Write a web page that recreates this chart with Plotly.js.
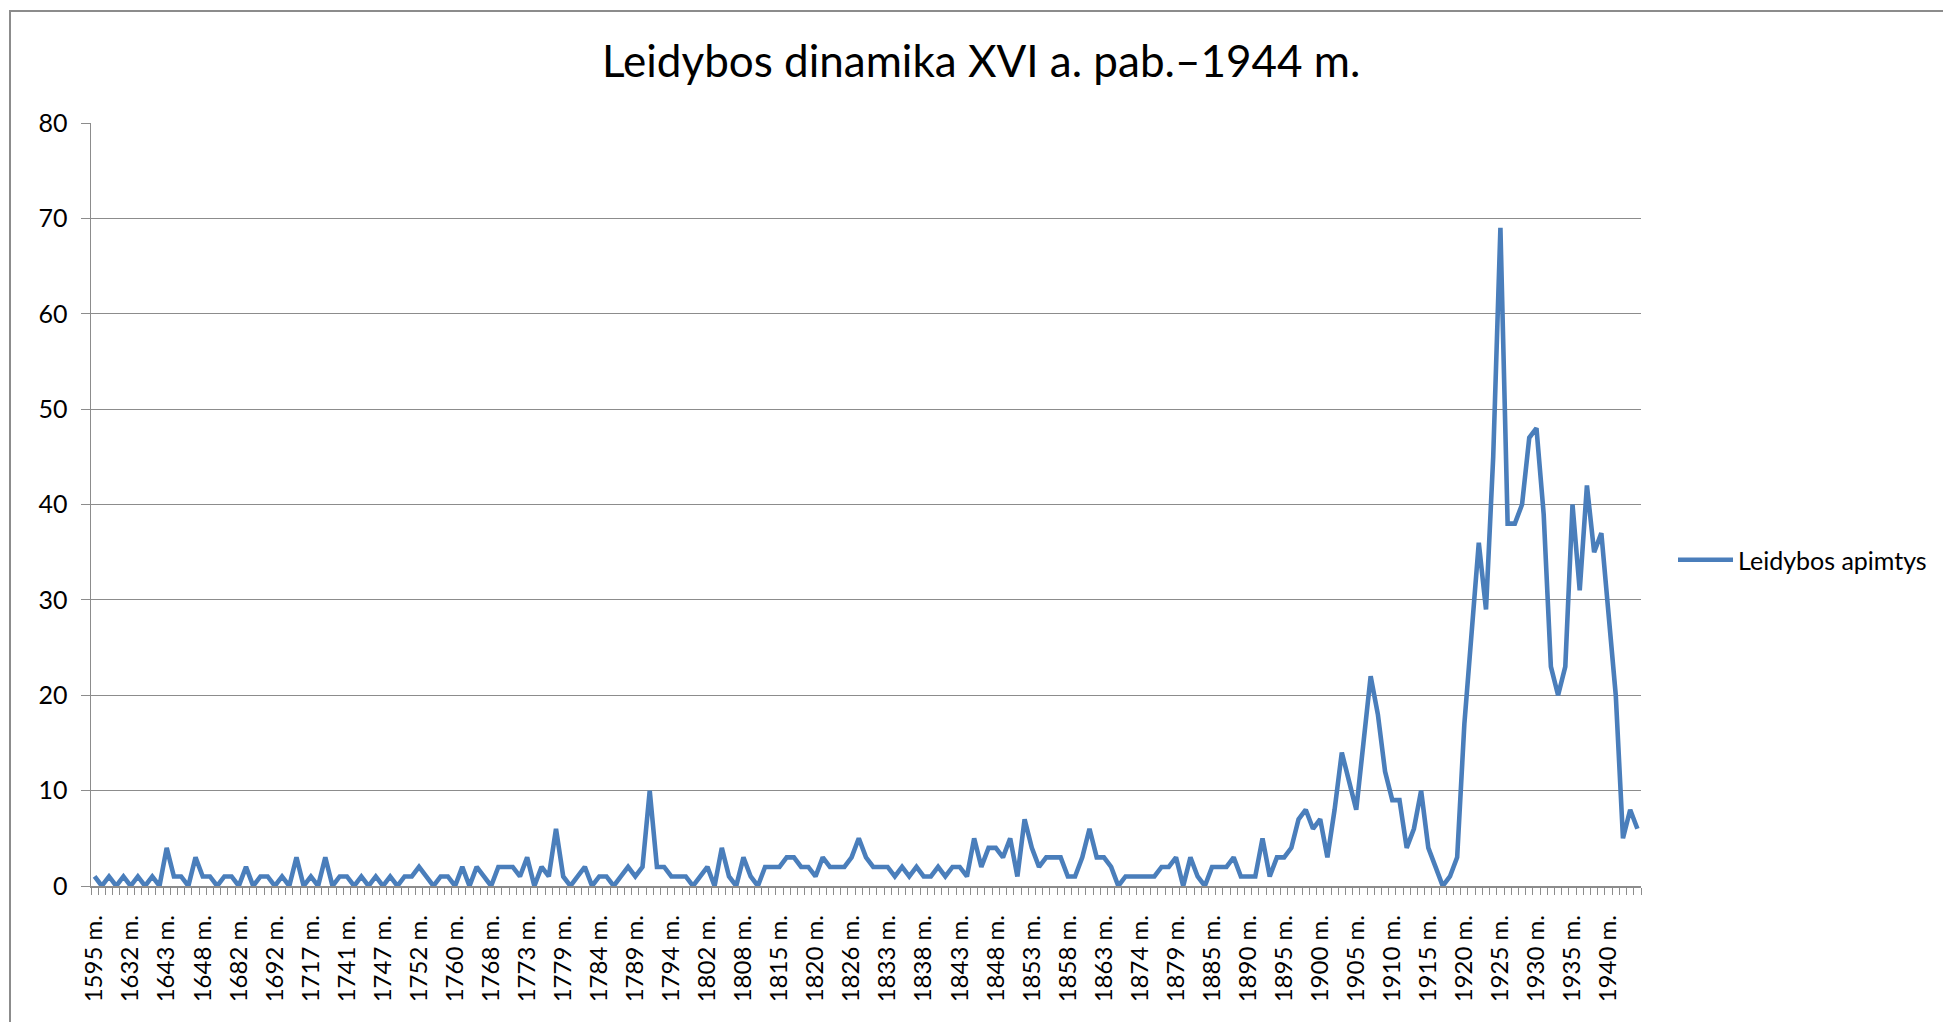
<!DOCTYPE html>
<html>
<head>
<meta charset="utf-8">
<script src="https://cdn.plot.ly/plotly-3.0.1.min.js"></script>
<style>html,body{margin:0;padding:0;background:#fff;}#chart{width:1943px;height:1022px;}</style>
</head>
<body>
<div id="chart"></div>
<script>
// Category tick labels (every 5th category is labelled)
const tickLabels = ["1595 m.","1632 m.","1643 m.","1648 m.","1682 m.","1692 m.","1717 m.","1741 m.","1747 m.","1752 m.","1760 m.","1768 m.","1773 m.","1779 m.","1784 m.","1789 m.","1794 m.","1802 m.","1808 m.","1815 m.","1820 m.","1826 m.","1833 m.","1838 m.","1843 m.","1848 m.","1853 m.","1858 m.","1863 m.","1874 m.","1879 m.","1885 m.","1890 m.","1895 m.","1900 m.","1905 m.","1910 m.","1915 m.","1920 m.","1925 m.","1930 m.","1935 m.","1940 m."];
const labelStep = 5;

// Series: Leidybos apimtys (one value per category, 1595 m. ... 1944 m.)
const seriesName = "Leidybos apimtys";
const values = [
 1,0,1,0,1,0,1,0,1,0,
 4,1,1,0,3,1,1,0,1,1,
 0,2,0,1,1,0,1,0,3,0,
 1,0,3,0,1,1,0,1,0,1,
 0,1,0,1,1,2,1,0,1,1,
 0,2,0,2,1,0,2,2,2,1,
 3,0,2,1,6,1,0,1,2,0,
 1,1,0,1,2,1,2,10,2,2,
 1,1,1,0,1,2,0,4,1,0,
 3,1,0,2,2,2,3,3,2,2,
 1,3,2,2,2,3,5,3,2,2,
 2,1,2,1,2,1,1,2,1,2,
 2,1,5,2,4,4,3,5,1,7,
 4,2,3,3,3,1,1,3,6,3,
 3,2,0,1,1,1,1,1,2,2,
 3,0,3,1,0,2,2,2,3,1,
 1,1,5,1,3,3,4,7,8,6,
 7,3,8,14,11,8,15,22,18,12,
 9,9,4,6,10,4,2,0,1,3,
 17,27,36,29,45,69,38,38,40,47,
 48,39,23,20,23,40,31,42,35,37,
 28,20,5,8,6
];

const titleText = "Leidybos dinamika XVI a. pab.–1944 m.";

const xIdx = values.map((v, i) => i);
const tickVals = tickLabels.map((t, k) => k * labelStep);

const FONT = "Lato, 'Open Sans', sans-serif";

const trace = {
  x: xIdx,
  y: values,
  type: "scatter",
  mode: "lines",
  name: seriesName,
  line: {color: "#4a7ebb", width: 4.6},
  showlegend: true
};

const L = 91, R = 1641, T = 123, B = 886;
const px = p => (p - L) / (R - L);
const py = p => (B - p) / (B - T);

const layout = {
  width: 1943,
  height: 1022,
  margin: {l: L, r: 1943 - R, t: T, b: 1022 - B, pad: 0, autoexpand: false},
  paper_bgcolor: "#ffffff",
  plot_bgcolor: "#ffffff",
  font: {family: FONT, color: "#000000", size: 24},
  title: {
    text: titleText,
    font: {family: FONT, size: 44, color: "#000000"},
    xref: "container", x: 0.505, xanchor: "center",
    yref: "container", y: 1 - 62 / 1022, yanchor: "middle"
  },
  xaxis: {
    range: [-0.5, values.length - 0.5],
    tickmode: "array",
    tickvals: tickVals,
    ticktext: tickLabels,
    tickangle: -90,
    ticks: "",
    ticklabelstandoff: 18,
    tickfont: {family: FONT, size: 24, color: "#000000"},
    showgrid: false,
    zeroline: false,
    showline: true,
    linecolor: "#8c8c8c",
    linewidth: 1.5,
    minor: {tickmode: "linear", tick0: -0.5, dtick: 1, ticks: "outside", ticklen: 7, tickcolor: "#8c8c8c", tickwidth: 1, showgrid: false},
    fixedrange: true
  },
  yaxis: {
    range: [0, 80],
    tickmode: "linear",
    tick0: 0,
    dtick: 10,
    ticks: "outside",
    ticklen: 9,
    tickcolor: "#8c8c8c",
    ticklabelstandoff: 8,
    tickfont: {family: FONT, size: 25, color: "#000000"},
    showgrid: true,
    gridcolor: "#8c8c8c",
    gridwidth: 1,
    zeroline: false,
    showline: true,
    linecolor: "#8c8c8c",
    linewidth: 1.5,
    fixedrange: true
  },
  legend: {
    x: px(1673), xanchor: "left",
    y: py(560), yanchor: "middle",
    itemwidth: 55,
    font: {family: FONT, size: 25, color: "#000000"},
    bgcolor: "rgba(0,0,0,0)",
    borderwidth: 0
  },
  shapes: [{
    type: "rect", xref: "paper", yref: "paper", layer: "below",
    x0: px(10), x1: px(1960), y0: py(1040), y1: py(11),
    line: {color: "#8c8c8c", width: 2}, fillcolor: "rgba(0,0,0,0)"
  }]
};

Plotly.newPlot("chart", [trace], layout, {displayModeBar: false, staticPlot: true});
</script>
</body>
</html>
